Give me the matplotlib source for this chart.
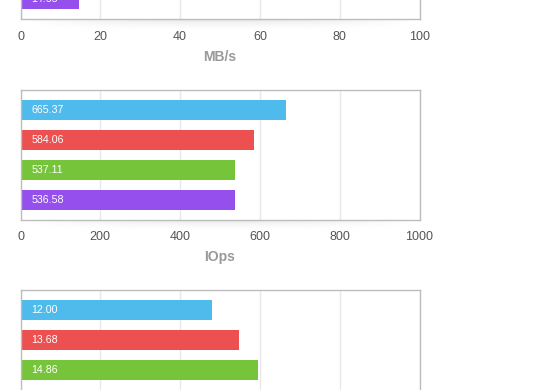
import matplotlib
matplotlib.use('Agg')
import matplotlib.pyplot as plt
import numpy as np

plt.rcParams['font.family'] = ['Liberation Sans', 'DejaVu Sans']

# data, top to bottom in each panel
mbs_values = [14.65]
iops_values = [665.37, 584.06, 537.11, 536.58]
lat_values = [12.00, 13.68, 14.86]

bar_colors = ['#4fbaec', '#ec5050', '#76c43a', '#954fec']
mbs_colors = ['#954fec']

figureWidth = 5.6
figureHeight = 3.9
fig = plt.figure(figsize=(figureWidth, figureHeight), dpi=100)

W = 560.0
H = 390.0
left = 20.5 / W
width = 399 / W
height = 130 / H

def panel_shadow(bottom_px):
    # soft drop shadow under the frame
    sh = fig.add_axes([left, (H - bottom_px - 14) / H, width, 14 / H], zorder=0)
    ny, nx = 30, 200
    yy = np.linspace(0, 1, ny)[:, None]
    xx = np.linspace(-1, 1, nx)[None, :]
    alpha = (1 - yy) ** 2 * np.clip(1 - xx ** 2, 0, 1) * 0.10
    img = np.zeros((ny, nx, 4))
    img[..., 3] = alpha
    sh.imshow(img, aspect='auto', extent=[0, 1, 1, 0])
    sh.axis('off')

def make_panel(bottom_px, values, colors, xmax, xlabel, show_ticks=True):
    ax = fig.add_axes([left, (H - bottom_px) / H, width, height], zorder=2)
    ypos = np.arange(len(values))
    ax.barh(ypos, values, height=2 / 3, color=colors, zorder=2)
    for y, v in zip(ypos, values):
        ax.text(xmax * 0.028, y, '{:.2f}'.format(v), color='white',
                fontsize=7.7, va='center', ha='left', zorder=3)
    ax.set_xlim(0, xmax)
    ticks = np.linspace(0, xmax, 6)
    ax.set_xticks(ticks)
    if show_ticks:
        ax.set_xticklabels([f'{t:g}' for t in ticks])
    else:
        ax.set_xticklabels([])
    ax.set_yticks([])
    ax.grid(axis='x', color='#e8e8e8', linewidth=1, zorder=0)
    ax.set_axisbelow(True)
    ax.tick_params(axis='x', length=0, pad=8.5, labelsize=9, labelcolor='#555555')
    for s in ax.spines.values():
        s.set_color('#bdbdbd')
        s.set_linewidth(1)
    if xlabel:
        ax.set_xlabel(xlabel, fontsize=10, color='#999999',
                      fontweight='bold', labelpad=5)
    panel_shadow(bottom_px)
    return ax

# top panel (mostly above the visible area)
top = make_panel(19, mbs_values, mbs_colors, 100, 'MB/s')
top.set_ylim(0.65, -3.683)

# middle panel
mid = make_panel(219.5, iops_values, bar_colors, 1000, 'IOps')
mid.set_ylim(3.65, -0.683)

# bottom panel (cut off at the bottom)
bot = make_panel(420, lat_values, bar_colors[:3], 25, None, show_ticks=False)
bot.set_ylim(3.65, -0.683)

fig.savefig('out.png', dpi=100)
